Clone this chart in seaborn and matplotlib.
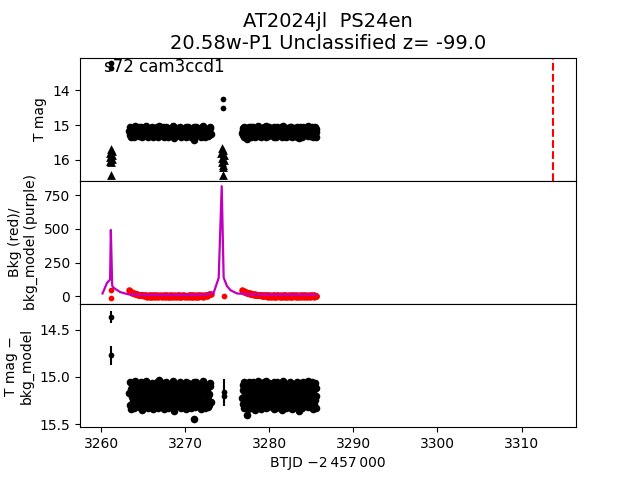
import numpy as np
import pandas as pd
import matplotlib
matplotlib.use("Agg")
import matplotlib.pyplot as plt
import seaborn as sns

# ---------------- text ----------------
title_text = "AT2024jl  PS24en\n20.58w-P1 Unclassified z= -99.0"
sector_text = "s72 cam3ccd1"
xlabel_text = "BTJD \u22122\u2009457\u2009000"
ylabel_top = "T mag"
ylabel_mid = "Bkg (red)/\nbkg_model (purple)"
ylabel_bot = "T mag \u2212\nbkg_model"

# ---------------- data ----------------
# segment A (orbit 1): photometry times and magnitudes
mag_time_a = [
    3263.30, 3263.36, 3263.42, 3263.48, 3263.54, 3263.61, 3263.67, 3263.73, 3263.79, 3263.85,
    3263.91, 3263.97, 3264.03, 3264.09, 3264.15, 3264.22, 3264.28, 3264.34, 3264.40, 3264.46,
    3264.52, 3264.58, 3264.64, 3264.70, 3264.76, 3264.83, 3264.89, 3264.95, 3265.01, 3265.07,
    3265.14, 3265.20, 3265.26, 3265.32, 3265.38, 3265.45, 3265.51, 3265.57, 3265.63, 3265.69,
    3265.75, 3265.81, 3265.87, 3265.93, 3265.99, 3266.06, 3266.12, 3266.18, 3266.24, 3266.30,
    3266.36, 3266.42, 3266.48, 3266.54, 3266.60, 3266.67, 3266.73, 3266.79, 3266.85, 3266.91,
    3266.97, 3267.03, 3267.09, 3267.15, 3267.21, 3267.28, 3267.34, 3267.40, 3267.46, 3267.52,
    3267.58, 3267.64, 3267.70, 3267.76, 3267.82, 3267.89, 3267.95, 3268.01, 3268.07, 3268.13,
    3268.20, 3268.26, 3268.32, 3268.38, 3268.44, 3268.51, 3268.57, 3268.63, 3268.69, 3268.75,
    3268.81, 3268.87, 3268.93, 3268.99, 3269.05, 3269.12, 3269.18, 3269.24, 3269.30, 3269.36,
    3269.42, 3269.48, 3269.54, 3269.60, 3269.66, 3269.73, 3269.79, 3269.85, 3269.91, 3269.97,
    3270.03, 3270.09, 3270.15, 3270.21, 3270.27, 3270.34, 3270.40, 3270.46, 3270.52, 3270.58,
    3270.64, 3270.70, 3270.76, 3270.82, 3270.88, 3270.95, 3271.01, 3271.07, 3271.13, 3271.19,
    3271.26, 3271.32, 3271.38, 3271.44, 3271.50, 3271.57, 3271.63, 3271.69, 3271.75, 3271.81,
    3271.87, 3271.93, 3271.99, 3272.05, 3272.11, 3272.18, 3272.24, 3272.30, 3272.36, 3272.42,
    3272.48, 3272.54, 3272.60, 3272.66, 3272.72, 3272.79, 3272.85, 3272.91, 3272.97, 3273.03]
mag_a = [
    15.17, 15.05, 15.30, 15.13, 15.34, 15.21, 15.08, 15.25,
    15.14, 15.33, 15.20, 15.04, 15.26, 15.09, 15.29, 15.16,
    15.25, 15.10, 15.17, 15.32, 15.06, 15.28, 15.12, 15.22,
    15.05, 15.21, 15.35, 15.08, 15.30, 15.18, 15.24, 15.13,
    15.28, 15.14, 15.04, 15.26, 15.17, 15.33, 15.20, 15.10,
    15.09, 15.24, 15.16, 15.29, 15.12, 15.06, 15.34, 15.22,
    15.21, 15.32, 15.09, 15.18, 15.25, 15.13, 15.05, 15.30,
    15.33, 15.16, 15.26, 15.03, 15.20, 15.10, 15.28, 15.14,
    15.12, 15.29, 15.06, 15.22, 15.34, 15.24, 15.09, 15.17,
    15.26, 15.05, 15.13, 15.33, 15.08, 15.18, 15.30, 15.21,
    15.16, 15.28, 15.22, 15.10, 15.25, 15.04, 15.14, 15.36,
    15.06, 15.13, 15.32, 15.24, 15.17, 15.29, 15.20, 15.09,
    15.30, 15.21, 15.08, 15.14, 15.05, 15.33, 15.18, 15.26,
    15.10, 15.16, 15.25, 15.28, 15.22, 15.12, 15.34, 15.05,
    15.20, 15.09, 15.29, 15.06, 15.13, 15.26, 15.17, 15.32,
    15.33, 15.25, 15.14, 15.21, 15.29, 15.10, 15.05, 15.44,
    15.18, 15.32, 15.05, 15.26, 15.09, 15.20, 15.30, 15.13,
    15.24, 15.14, 15.21, 15.08, 15.34, 15.16, 15.06, 15.28,
    15.04, 15.29, 15.17, 15.33, 15.12, 15.10, 15.25, 15.22,
    15.13, 15.20, 15.32, 15.18, 15.30, 15.06, 15.09, 15.26]

# segment B (orbit 2)
mag_time_b = [
    3276.75, 3276.81, 3276.86, 3276.92, 3276.97, 3277.03, 3277.08, 3277.14, 3277.20, 3277.25,
    3277.31, 3277.37, 3277.42, 3277.48, 3277.53, 3277.59, 3277.64, 3277.70, 3277.76, 3277.81,
    3277.86, 3277.92, 3277.97, 3278.03, 3278.08, 3278.14, 3278.19, 3278.25, 3278.31, 3278.36,
    3278.42, 3278.48, 3278.53, 3278.59, 3278.64, 3278.70, 3278.75, 3278.81, 3278.87, 3278.92,
    3278.98, 3279.04, 3279.09, 3279.15, 3279.20, 3279.26, 3279.31, 3279.37, 3279.43, 3279.48,
    3279.53, 3279.59, 3279.64, 3279.70, 3279.75, 3279.81, 3279.86, 3279.92, 3279.98, 3280.03,
    3280.09, 3280.15, 3280.20, 3280.26, 3280.31, 3280.37, 3280.42, 3280.48, 3280.54, 3280.59,
    3280.65, 3280.71, 3280.76, 3280.82, 3280.87, 3280.93, 3280.98, 3281.04, 3281.10, 3281.15,
    3281.20, 3281.26, 3281.31, 3281.37, 3281.42, 3281.48, 3281.53, 3281.59, 3281.65, 3281.70,
    3281.76, 3281.82, 3281.87, 3281.93, 3281.98, 3282.04, 3282.09, 3282.15, 3282.21, 3282.26,
    3282.32, 3282.38, 3282.43, 3282.49, 3282.54, 3282.60, 3282.65, 3282.71, 3282.77, 3282.82,
    3282.87, 3282.93, 3282.98, 3283.04, 3283.09, 3283.15, 3283.20, 3283.26, 3283.32, 3283.37,
    3283.43, 3283.49, 3283.54, 3283.60, 3283.65, 3283.71, 3283.76, 3283.82, 3283.88, 3283.93,
    3283.99, 3284.05, 3284.10, 3284.16, 3284.21, 3284.27, 3284.32, 3284.38, 3284.44, 3284.49,
    3284.54, 3284.60, 3284.65, 3284.71, 3284.76, 3284.82, 3284.87, 3284.93, 3284.99, 3285.04,
    3285.10, 3285.16, 3285.21, 3285.27, 3285.32, 3285.38, 3285.43, 3285.49, 3285.55, 3285.60]
mag_b = [
    15.22, 15.08, 15.29, 15.14, 15.33, 15.05, 15.25, 15.18,
    15.30, 15.17, 15.09, 15.40, 15.21, 15.34, 15.05, 15.26,
    15.13, 15.25, 15.33, 15.06, 15.18, 15.29, 15.10, 15.22,
    15.05, 15.30, 15.20, 15.12, 15.35, 15.16, 15.26, 15.09,
    15.27, 15.14, 15.04, 15.22, 15.09, 15.32, 15.18, 15.25,
    15.17, 15.34, 15.12, 15.28, 15.21, 15.08, 15.30, 15.05,
    15.09, 15.21, 15.26, 15.33, 15.04, 15.13, 15.17, 15.29,
    15.32, 15.06, 15.18, 15.25, 15.14, 15.29, 15.10, 15.22,
    15.20, 15.28, 15.08, 15.13, 15.34, 15.05, 15.24, 15.17,
    15.12, 15.33, 15.21, 15.05, 15.26, 15.18, 15.09, 15.30,
    15.25, 15.10, 15.30, 15.17, 15.06, 15.22, 15.35, 15.13,
    15.04, 15.24, 15.14, 15.29, 15.20, 15.33, 15.08, 15.18,
    15.29, 15.16, 15.09, 15.21, 15.32, 15.12, 15.26, 15.05,
    15.18, 15.06, 15.25, 15.34, 15.10, 15.28, 15.14, 15.21,
    15.08, 15.30, 15.17, 15.13, 15.24, 15.05, 15.33, 15.26,
    15.22, 15.12, 15.36, 15.06, 15.28, 15.18, 15.09, 15.25,
    15.33, 15.20, 15.05, 15.26, 15.14, 15.30, 15.17, 15.10,
    15.13, 15.28, 15.22, 15.09, 15.32, 15.04, 15.24, 15.18,
    15.26, 15.08, 15.31, 15.17, 15.21, 15.13, 15.05, 15.34,
    15.16, 15.29, 15.10, 15.24, 15.06, 15.33, 15.20, 15.12]
mag_err_blob = 0.03

# background flux samples (red)
bkg_time_a = [
    3263.30, 3263.40, 3263.50, 3263.59, 3263.69, 3263.79, 3263.89, 3263.99, 3264.09, 3264.18,
    3264.28, 3264.38, 3264.48, 3264.58, 3264.68, 3264.77, 3264.87, 3264.97, 3265.07, 3265.17,
    3265.27, 3265.36, 3265.46, 3265.56, 3265.66, 3265.76, 3265.86, 3265.95, 3266.05, 3266.15,
    3266.25, 3266.35, 3266.45, 3266.54, 3266.64, 3266.74, 3266.84, 3266.94, 3267.04, 3267.13,
    3267.23, 3267.33, 3267.43, 3267.53, 3267.63, 3267.72, 3267.82, 3267.92, 3268.02, 3268.12,
    3268.22, 3268.31, 3268.41, 3268.51, 3268.61, 3268.71, 3268.81, 3268.90, 3269.00, 3269.10,
    3269.20, 3269.30, 3269.40, 3269.49, 3269.59, 3269.69, 3269.79, 3269.89, 3269.99, 3270.08,
    3270.18, 3270.28, 3270.38, 3270.48, 3270.58, 3270.67, 3270.77, 3270.87, 3270.97, 3271.07,
    3271.17, 3271.26, 3271.36, 3271.46, 3271.56, 3271.66, 3271.76, 3271.85, 3271.95, 3272.05,
    3272.15, 3272.25, 3272.35, 3272.44, 3272.54, 3272.64, 3272.74, 3272.84, 3272.94, 3273.03]
bkg_a = [
    44, 40, 36, 33, 29, 27, 24, 21, 19, 17,
    15, 13, 12, 10, 9, 11, 7, 8, 5, 9,
    2, 10, -4, 6, 12, -1, 4, 9, -6, 7,
    1, 11, -3, 5, 8, -5, 3, 10, 0, 6,
    -2, 9, 4, -6, 7, 2, 11, -3, 5, 8,
    -1, 3, 10, -5, 6, 1, 9, -4, 4, 7,
    -2, 11, 2, -6, 8, 5, 0, 10, -3, 6,
    3, -5, 9, 1, 7, -2, 11, 4, -4, 8,
    2, -1, 10, 5, -6, 7, 3, 9, 0, 6,
    -3, 11, 4, 8, 6, 12, 10, 15, 18, 21]
bkg_time_b = [
    3276.75, 3276.84, 3276.93, 3277.02, 3277.11, 3277.20, 3277.29, 3277.38, 3277.47, 3277.55,
    3277.64, 3277.73, 3277.82, 3277.91, 3278.00, 3278.09, 3278.18, 3278.27, 3278.36, 3278.45,
    3278.54, 3278.63, 3278.72, 3278.81, 3278.90, 3278.99, 3279.08, 3279.16, 3279.25, 3279.34,
    3279.43, 3279.52, 3279.61, 3279.70, 3279.79, 3279.88, 3279.97, 3280.06, 3280.15, 3280.24,
    3280.33, 3280.42, 3280.51, 3280.60, 3280.69, 3280.77, 3280.86, 3280.95, 3281.04, 3281.13,
    3281.22, 3281.31, 3281.40, 3281.49, 3281.58, 3281.67, 3281.76, 3281.85, 3281.94, 3282.03,
    3282.12, 3282.21, 3282.30, 3282.38, 3282.47, 3282.56, 3282.65, 3282.74, 3282.83, 3282.92,
    3283.01, 3283.10, 3283.19, 3283.28, 3283.37, 3283.46, 3283.55, 3283.64, 3283.73, 3283.82,
    3283.91, 3283.99, 3284.08, 3284.17, 3284.26, 3284.35, 3284.44, 3284.53, 3284.62, 3284.71,
    3284.80, 3284.89, 3284.98, 3285.07, 3285.16, 3285.25, 3285.34, 3285.43, 3285.52, 3285.60]
bkg_b = [
    44, 41, 38, 36, 34, 31, 29, 28, 26, 24,
    23, 21, 20, 18, 17, 16, 14, 15, 12, 13,
    10, 12, 8, 11, 7, 10, 5, 9, 3, 8,
    4, 10, 1, 7, 11, -2, 6, 9, -4, 5,
    2, 10, -1, 7, 4, -5, 8, 11, 0, 6,
    -3, 9, 3, -6, 7, 1, 10, -2, 5, 8,
    -4, 6, 11, 2, -1, 9, 4, -5, 7, 0,
    10, 3, -3, 8, 5, -6, 6, 11, 1, -2,
    9, 4, 7, -4, 2, 10, -1, 6, 3, 8,
    -5, 5, 11, 0, 7, -3, 9, 2, 4, 6]

# isolated detections during the background flares (top panel)
flare_det_t = [3261.19, 3261.19, 3274.52, 3274.52]
flare_det_mag = [13.21, 13.35, 14.25, 14.51]
# upper limits (triangles)
ulim_t = [3261.12, 3261.22, 3261.03, 3261.30, 3261.08, 3261.25, 3261.05, 3261.18, 3261.15,
          3274.36, 3274.48, 3274.28, 3274.55, 3274.33, 3274.60, 3274.40, 3274.52, 3274.45, 3274.47]
ulim_mag = [15.68, 15.74, 15.80, 15.86, 15.92, 15.98, 16.03, 16.07, 16.43,
            15.67, 15.73, 15.80, 15.87, 15.94, 16.01, 16.08, 16.14, 16.20, 16.45]
# background-subtracted points during flares (bottom panel)
flare_sub_t = [3261.15, 3261.15, 3274.56, 3274.56]
flare_sub_mag = [14.37, 14.77, 15.16, 15.20]
flare_sub_err = [0.065, 0.10, 0.14, 0.11]
# background values during flares (middle panel)
flare_bkg_t = [3261.15, 3261.15, 3274.56]
flare_bkg = [46, -15, 4]

# background model (purple)
model_t = [3260.15, 3260.68, 3261.05, 3261.14, 3261.30, 3261.46, 3262.26, 3263.25, 3265.50,
           3268.00, 3270.50, 3272.50, 3273.37, 3273.97, 3274.33, 3274.56, 3274.96, 3275.40,
           3276.15, 3277.70, 3280.00, 3283.00, 3285.60]
model_v = [22, 100, 125, 492, 80, 64, 32, 15, 12,
           12, 12, 14, 27, 137, 816, 140, 76, 45,
           22, 16, 14, 14, 14]

# reference epoch (red dashed)
ref_epoch = 3313.8

# ---------------- assemble ----------------
phot = pd.DataFrame({"t": mag_time_a + mag_time_b, "mag": mag_a + mag_b})
bkg = pd.DataFrame({"t": bkg_time_a + bkg_time_b, "bkg": bkg_a + bkg_b})
dets = pd.DataFrame({"t": flare_det_t, "mag": flare_det_mag})
ulims = pd.DataFrame({"t": ulim_t, "mag": ulim_mag})
subs = pd.DataFrame({"t": flare_sub_t, "mag": flare_sub_mag, "err": flare_sub_err})
fbkg = pd.DataFrame({"t": flare_bkg_t, "bkg": flare_bkg})
model = pd.DataFrame({"t": model_t, "v": model_v})

fig, (ax1, ax2, ax3) = plt.subplots(3, 1, sharex=True, figsize=(6.4, 4.8), dpi=100,
                                    gridspec_kw=dict(hspace=0))

DOT = 17
BLOB = 30
# top panel
sns.scatterplot(data=phot, x="t", y="mag", ax=ax1, color="k", marker="o", s=BLOB,
                linewidth=0, zorder=2, legend=False)
sns.scatterplot(data=dets, x="t", y="mag", ax=ax1, color="k", marker="o", s=DOT,
                linewidth=0, zorder=2, legend=False)
sns.scatterplot(data=ulims, x="t", y="mag", ax=ax1, color="k", marker="^", s=40,
                linewidth=0, zorder=2, legend=False)
ax1.axvline(ref_epoch, color="r", ls="--", lw=1.5)
ax1.text(3260.3, 1.0, sector_text, transform=ax1.get_xaxis_transform(), va="top",
         ha="left", fontsize=12, zorder=1)
ax1.set_ylim(16.61, 13.05)
ax1.set_yticks([14, 15, 16])
ax1.set_ylabel(ylabel_top)
ax1.set_title(title_text, fontsize=14)
ax1.tick_params(axis="x", bottom=False, labelbottom=False)

# middle panel
sns.scatterplot(data=bkg, x="t", y="bkg", ax=ax2, color="r", marker="o", s=22,
                linewidth=0, zorder=2, legend=False)
sns.scatterplot(data=fbkg, x="t", y="bkg", ax=ax2, color="r", marker="o", s=DOT,
                linewidth=0, zorder=2, legend=False)
sns.lineplot(data=model, x="t", y="v", ax=ax2, color="m", lw=1.6, sort=False,
             estimator=None, zorder=3)
ax2.set_ylim(-56, 856)
ax2.set_yticks([0, 250, 500, 750])
ax2.set_ylabel(ylabel_mid)
ax2.tick_params(axis="x", bottom=False, labelbottom=False)

# bottom panel
ax3.errorbar(phot["t"], phot["mag"], yerr=mag_err_blob, fmt="none", ecolor="k",
             elinewidth=1.8, zorder=2)
ax3.errorbar(subs["t"], subs["mag"], yerr=subs["err"], fmt="none", ecolor="k",
             elinewidth=1.5, zorder=2)
sns.scatterplot(data=phot, x="t", y="mag", ax=ax3, color="k", marker="o", s=BLOB,
                linewidth=0, zorder=3, legend=False)
sns.scatterplot(data=subs, x="t", y="mag", ax=ax3, color="k", marker="o", s=DOT,
                linewidth=0, zorder=3, legend=False)
ax3.set_ylim(15.53, 14.23)
ax3.set_yticks([14.5, 15.0, 15.5])
ax3.set_ylabel(ylabel_bot)
ax3.set_xlim(3257.47, 3316.48)
ax3.set_xticks([3260, 3270, 3280, 3290, 3300, 3310])
ax3.set_xlabel(xlabel_text)

fig.savefig("out.png", dpi=100)
